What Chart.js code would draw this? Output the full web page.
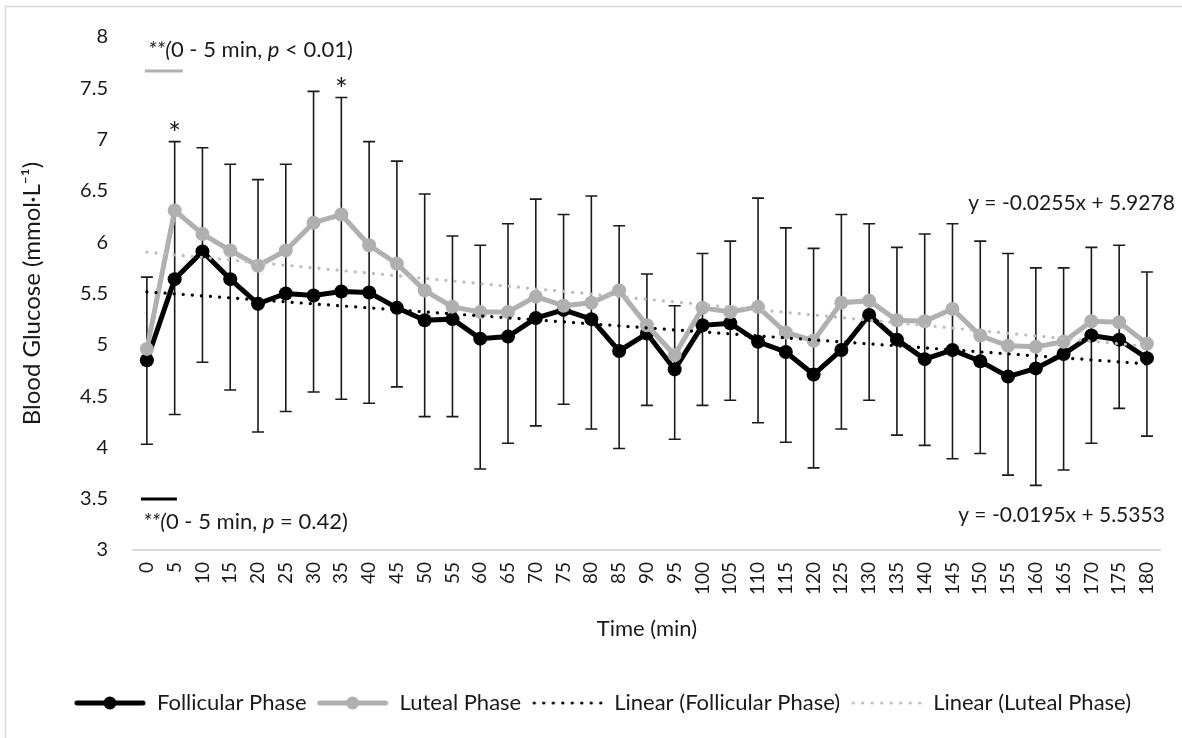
<!DOCTYPE html>
<html>
<head>
<meta charset="utf-8">
<script src="https://cdn.jsdelivr.net/npm/chart.js@4"></script>
<style>
  html, body { margin: 0; padding: 0; background: #fff; }
  #wrap { width: 1182px; height: 738px; position: relative; }
</style>
</head>
<body>
<div id="wrap"><canvas id="glucoseChart"></canvas></div>
<script>
// Data
const timeLabels = ['0', '5', '10', '15', '20', '25', '30', '35', '40', '45', '50', '55', '60', '65', '70', '75', '80', '85', '90',
    '95', '100', '105', '110', '115', '120', '125', '130', '135', '140', '145', '150', '155', '160', '165', '170', '175', '180'];

const follicular = [4.85, 5.64, 5.91, 5.64, 5.40, 5.50, 5.48, 5.52, 5.51, 5.36, 5.24, 5.25, 5.06, 5.08, 5.26, 5.34, 5.25, 4.94, 5.11,
    4.76, 5.19, 5.21, 5.03, 4.93, 4.71, 4.95, 5.29, 5.05, 4.86, 4.95, 4.84, 4.69, 4.77, 4.91, 5.09, 5.05, 4.87];

const luteal = [4.96, 6.31, 6.08, 5.92, 5.77, 5.92, 6.19, 6.27, 5.97, 5.79, 5.53, 5.37, 5.32, 5.32, 5.47, 5.38, 5.41, 5.53, 5.19,
    4.90, 5.36, 5.32, 5.37, 5.12, 5.04, 5.41, 5.43, 5.24, 5.23, 5.35, 5.09, 4.99, 4.98, 5.03, 5.23, 5.22, 5.01];

// error bar ends
const errorTop = [5.66, 6.98, 6.92, 6.76, 6.61, 6.76, 7.47, 7.41, 6.98, 6.79, 6.47, 6.06, 5.97, 6.18, 6.42, 6.27, 6.45, 6.16, 5.69,
    5.38, 5.89, 6.01, 6.43, 6.14, 5.94, 6.27, 6.18, 5.95, 6.08, 6.18, 6.01, 5.89, 5.75, 5.75, 5.95, 5.97, 5.71];
const errorBottom = [4.03, 4.32, 4.83, 4.56, 4.15, 4.35, 4.54, 4.47, 4.43, 4.59, 4.30, 4.30, 3.79, 4.04, 4.21, 4.42, 4.18, 3.99, 4.41,
    4.08, 4.41, 4.46, 4.24, 4.05, 3.80, 4.18, 4.46, 4.12, 4.02, 3.89, 3.94, 3.73, 3.63, 3.78, 4.04, 4.38, 4.11];

const yTicks = [3, 3.5, 4, 4.5, 5, 5.5, 6, 6.5, 7, 7.5, 8];

// trend lines as printed on the chart (x = point number)
const trendFollicular = { slope: -0.0195, intercept: 5.5353 };
const trendLuteal = { slope: -0.0255, intercept: 5.9278 };

const starLabels = ['5', '35'];

const FONT = 'Lato';
const TEXT = '#1a1a1a';
const GREY = '#b0b0b0';
const GREY_TREND = '#bdbdbd';

const trendValues = (t) => timeLabels.map((_, i) => +(t.slope * (i + 1) + t.intercept).toFixed(4));

// legend sample images
function lineSample(color, withDot, dotted) {
    const c = document.createElement('canvas');
    c.width = 72; c.height = 16;
    const g = c.getContext('2d');
    g.strokeStyle = color;
    g.lineCap = 'round';
    if (dotted) {
        g.lineWidth = 3.2;
        g.setLineDash([0.1, 9.4]);
        g.beginPath(); g.moveTo(3, 8); g.lineTo(70, 8); g.stroke();
    } else {
        g.lineWidth = 5;
        g.beginPath(); g.moveTo(3, 8); g.lineTo(69, 8); g.stroke();
    }
    if (withDot) {
        g.fillStyle = color;
        g.beginPath(); g.arc(36, 8, 6.5, 0, Math.PI * 2); g.fill();
    }
    return c;
}

const legendSamples = [
    lineSample('#000', true, false),
    lineSample(GREY, true, false),
    lineSample('#000', false, true),
    lineSample(GREY_TREND, false, true),
];

// error bars behind the lines
const errorBarPlugin = {
    id: 'errorBars',
    beforeDatasetsDraw(chart) {
        const { ctx, scales: { x, y } } = chart;
        ctx.save();
        ctx.strokeStyle = '#1a1a1a';
        ctx.lineWidth = 1.6;
        timeLabels.forEach((lab, i) => {
            const px = x.getPixelForValue(i);
            const t = y.getPixelForValue(errorTop[i]);
            const b = y.getPixelForValue(errorBottom[i]);
            ctx.beginPath();
            ctx.moveTo(px, t); ctx.lineTo(px, b);
            ctx.moveTo(px - 6, t); ctx.lineTo(px + 6, t);
            ctx.moveTo(px - 6, b); ctx.lineTo(px + 6, b);
            ctx.stroke();
        });
        ctx.restore();
    }
};

function drawRich(ctx, parts, x, y, size) {
    let cx = x;
    parts.forEach(([txt, italic]) => {
        ctx.font = (italic ? 'italic ' : '') + size + 'px ' + FONT;
        ctx.fillText(txt, cx, y);
        cx += ctx.measureText(txt).width;
    });
}

// annotations: significance notes, asterisks, trend equations, outer frame
const notesPlugin = {
    id: 'notes',
    beforeDraw(chart) {
        const { ctx } = chart;
        ctx.save();
        ctx.fillStyle = '#fff';
        ctx.fillRect(0, 0, chart.width, chart.height);
        ctx.strokeStyle = '#d9d9d9';
        ctx.lineWidth = 1.5;
        ctx.strokeRect(5.5, 6.5, chart.width + 20, chart.height + 20);
        ctx.restore();
    },
    afterLayout(chart) {
        // legend sits a little right of centre in the original
        chart.legend.left += 21;
        chart.legend.right += 21;
    },
    afterDatasetsDraw(chart) {
        const { ctx, chartArea: a, scales: { x, y } } = chart;
        ctx.save();
        ctx.fillStyle = TEXT;
        ctx.textBaseline = 'middle';
        ctx.textAlign = 'left';

        const x0 = x.getPixelForValue(0);
        drawRich(ctx, [['**(', true], ['0 - 5 min, ', false], ['p', true], [' < 0.01)', false]], x0 + 1, 50, 22);
        drawRich(ctx, [['**(', true], ['0 - 5 min, ', false], ['p', true], [' = 0.42)', false]], x0 - 4, 522, 22);

        ctx.lineWidth = 3;
        ctx.strokeStyle = GREY;
        ctx.beginPath(); ctx.moveTo(x0 - 2, 71); ctx.lineTo(x0 + 36, 71); ctx.stroke();
        ctx.strokeStyle = '#000';
        ctx.beginPath(); ctx.moveTo(x0 - 6, 499); ctx.lineTo(x0 + 30, 499); ctx.stroke();

        ctx.textAlign = 'center';
        ctx.font = '30px ' + FONT;
        starLabels.forEach(lab => {
            const i = timeLabels.indexOf(lab);
            ctx.fillText('*', x.getPixelForValue(i), y.getPixelForValue(errorTop[i]) - 7);
        });

        ctx.textAlign = 'right';
        ctx.font = '21px ' + FONT;
        ctx.fillText('y = -0.0255x + 5.9278', a.right + 14, 203);
        ctx.fillText('y = -0.0195x + 5.5353', a.right + 4, 515);
        ctx.restore();
    }
};

const ctx = document.getElementById('glucoseChart').getContext('2d');
const glucoseChart = new Chart(ctx, {
    type: 'line',
    data: {
        labels: timeLabels,
        datasets: [
            {
                label: 'Follicular Phase',
                data: follicular,
                borderColor: '#000',
                backgroundColor: '#000',
                borderWidth: 5,
                pointRadius: 7,
                pointBorderWidth: 0,
                order: 4,
            },
            {
                label: 'Luteal Phase',
                data: luteal,
                borderColor: GREY,
                backgroundColor: GREY,
                borderWidth: 5,
                pointRadius: 7,
                pointBorderWidth: 0,
                order: 3,
            },
            {
                label: 'Linear (Follicular Phase)',
                data: trendValues(trendFollicular),
                borderColor: '#000',
                borderWidth: 3.2,
                borderDash: [0.1, 9],
                borderCapStyle: 'round',
                pointRadius: 0,
                order: 2,
            },
            {
                label: 'Linear (Luteal Phase)',
                data: trendValues(trendLuteal),
                borderColor: GREY_TREND,
                borderWidth: 3.2,
                borderDash: [0.1, 9],
                borderCapStyle: 'round',
                pointRadius: 0,
                order: 1,
            }
        ]
    },
    options: {
        responsive: true,
        maintainAspectRatio: false,
        animation: false,
        layout: { padding: { top: 35, right: 19, bottom: 14, left: 0 } },
        plugins: {
            tooltip: { enabled: false },
            legend: {
                position: 'bottom',
                labels: {
                    usePointStyle: true,
                    pointStyleWidth: 72,
                    padding: 10,
                    color: TEXT,
                    font: { family: FONT, size: 22 },
                    sort: (a, b) => a.datasetIndex - b.datasetIndex,
                    generateLabels(chart) {
                        const items = Chart.defaults.plugins.legend.labels.generateLabels(chart);
                        items.forEach(it => { it.pointStyle = legendSamples[it.datasetIndex]; });
                        return items;
                    }
                }
            }
        },
        scales: {
            x: {
                offset: true,
                grid: { display: false, drawTicks: false },
                border: { display: true, color: '#d9d9d9', width: 2 },
                ticks: {
                    autoSkip: false,
                    minRotation: 90,
                    maxRotation: 90,
                    padding: 12,
                    color: TEXT,
                    font: { family: FONT, size: 19 }
                },
                title: {
                    display: true,
                    text: 'Time (min)',
                    color: TEXT,
                    font: { family: FONT, size: 22 },
                    padding: { top: 0, bottom: 40 }
                },
                afterFit(scale) { scale.height = 132; }
            },
            y: {
                min: 3,
                max: 8,
                grid: { display: false, drawTicks: false },
                border: { display: false },
                afterBuildTicks(scale) { scale.ticks = yTicks.map(v => ({ value: v })); },
                ticks: {
                    padding: 25,
                    color: TEXT,
                    font: { family: FONT, size: 20 },
                    callback: (v) => String(v)
                },
                title: {
                    display: true,
                    text: 'Blood Glucose (mmol·L⁻¹)',
                    color: TEXT,
                    font: { family: FONT, size: 24 },
                    padding: { top: 18, bottom: 0 }
                },
                afterFit(scale) { scale.width = 133; }
            }
        }
    },
    plugins: [errorBarPlugin, notesPlugin]
});
</script>
</body>
</html>
